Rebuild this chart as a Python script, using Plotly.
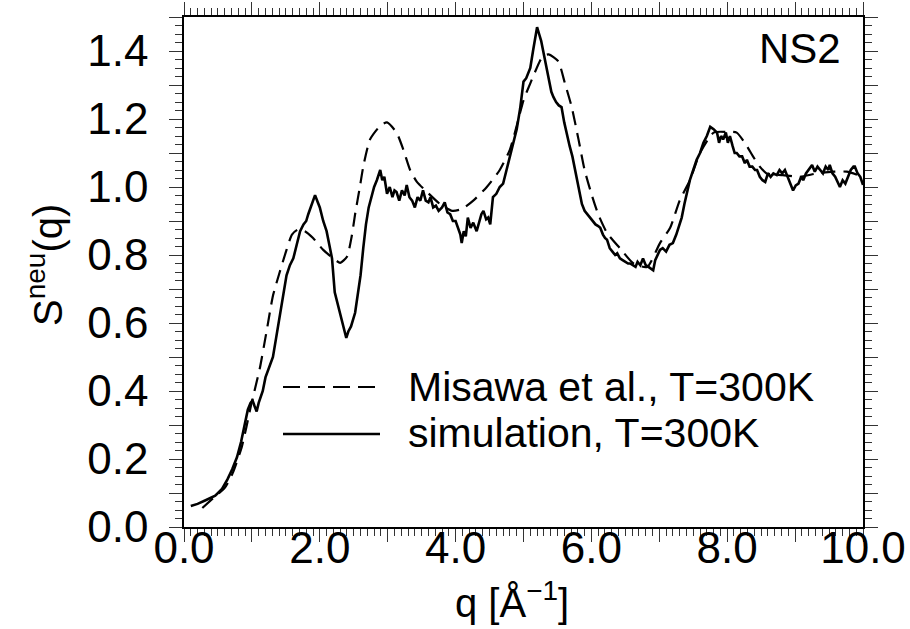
import plotly.graph_objects as go

# Simulation, T=300K (solid)
sim_q = [0.10, 0.20, 0.31, 0.40, 0.46, 0.56, 0.64, 0.71, 0.78, 0.84, 0.90, 0.94, 0.98, 1.01, 1.04,
         1.07, 1.10, 1.16, 1.20, 1.26, 1.31, 1.36, 1.41, 1.46, 1.51, 1.56, 1.61, 1.66, 1.71, 1.76,
         1.80, 1.83, 1.88, 1.93, 1.97, 2.00, 2.05, 2.10, 2.14, 2.18, 2.22, 2.26, 2.30, 2.35, 2.39,
         2.42, 2.46, 2.52, 2.56, 2.60, 2.64, 2.68, 2.72, 2.76, 2.80, 2.84, 2.87, 2.89, 2.92, 2.95,
         2.99, 3.03, 3.07, 3.10, 3.13, 3.17, 3.21, 3.25, 3.28, 3.32, 3.36, 3.40, 3.44, 3.48, 3.52,
         3.56, 3.60, 3.63, 3.67, 3.71, 3.75, 3.80, 3.84, 3.88, 3.92, 3.96, 4.00, 4.04, 4.07, 4.09,
         4.12, 4.15, 4.18, 4.22, 4.26, 4.31, 4.35, 4.38, 4.41, 4.45, 4.48, 4.51, 4.55, 4.60, 4.65,
         4.70, 4.75, 4.80, 4.85, 4.90, 4.95, 4.98, 5.00, 5.04, 5.10, 5.14, 5.17, 5.20, 5.23, 5.26,
         5.29, 5.33, 5.37, 5.41, 5.44, 5.48, 5.52, 5.56, 5.60, 5.64, 5.68, 5.72, 5.76, 5.79, 5.82,
         5.86, 5.90, 5.94, 5.98, 6.02, 6.06, 6.10, 6.13, 6.17, 6.20, 6.23, 6.27, 6.31, 6.35, 6.38,
         6.42, 6.46, 6.50, 6.54, 6.57, 6.61, 6.65, 6.68, 6.72, 6.76, 6.80, 6.84, 6.88, 6.91, 6.94,
         6.97, 7.01, 7.05, 7.10, 7.15, 7.20, 7.25, 7.30, 7.33, 7.37, 7.41, 7.45, 7.50, 7.55, 7.60,
         7.65, 7.70, 7.75, 7.80, 7.85, 7.88, 7.91, 7.94, 7.98, 8.01, 8.04, 8.08, 8.11, 8.14, 8.18,
         8.22, 8.26, 8.29, 8.33, 8.37, 8.41, 8.44, 8.48, 8.52, 8.56, 8.60, 8.64, 8.68, 8.73, 8.77,
         8.81, 8.85, 8.89, 8.93, 8.97, 9.01, 9.05, 9.09, 9.12, 9.16, 9.20, 9.25, 9.29, 9.33, 9.37,
         9.41, 9.45, 9.49, 9.51, 9.55, 9.59, 9.63, 9.66, 9.70, 9.74, 9.78, 9.82, 9.86, 9.88, 9.92,
         9.96, 10.0]
sim_s = [0.062, 0.068, 0.078, 0.085, 0.092, 0.112, 0.14, 0.17, 0.205, 0.25, 0.31, 0.345, 0.365, 0.372, 0.355,
         0.34, 0.365, 0.40, 0.44, 0.47, 0.50, 0.56, 0.62, 0.68, 0.74, 0.77, 0.79, 0.83, 0.87, 0.89,
         0.90, 0.92, 0.95, 0.976, 0.955, 0.94, 0.90, 0.87, 0.83, 0.79, 0.69, 0.66, 0.63, 0.59, 0.556,
         0.575, 0.59, 0.63, 0.68, 0.74, 0.82, 0.89, 0.94, 0.97, 1.00, 1.02, 1.035, 1.05, 1.02, 1.03,
         0.98, 1.00, 0.97, 0.99, 0.985, 0.96, 0.99, 0.975, 1.006, 0.97, 0.96, 0.94, 0.97, 0.96, 0.99,
         0.96, 0.955, 0.97, 0.94, 0.945, 0.93, 0.94, 0.955, 0.925, 0.92, 0.90, 0.90, 0.88, 0.86, 0.835,
         0.87, 0.855, 0.91, 0.88, 0.895, 0.87, 0.90, 0.92, 0.93, 0.905, 0.91, 0.89, 0.97, 0.98, 1.00,
         1.01, 1.05, 1.09, 1.13, 1.17, 1.23, 1.27, 1.31, 1.32, 1.35, 1.40, 1.44, 1.47, 1.45, 1.43,
         1.40, 1.36, 1.33, 1.28, 1.265, 1.25, 1.24, 1.235, 1.19, 1.15, 1.12, 1.09, 1.05, 1.03, 0.99,
         0.95, 0.93, 0.92, 0.91, 0.90, 0.89, 0.885, 0.88, 0.86, 0.85, 0.845, 0.82, 0.81, 0.80, 0.805,
         0.79, 0.785, 0.78, 0.775, 0.775, 0.77, 0.765, 0.78, 0.77, 0.79, 0.77, 0.765, 0.76, 0.755, 0.785,
         0.80, 0.815, 0.82, 0.81, 0.83, 0.835, 0.86, 0.89, 0.91, 0.95, 0.99, 1.02, 1.05, 1.08, 1.10,
         1.13, 1.15, 1.177, 1.17, 1.16, 1.13, 1.15, 1.14, 1.16, 1.13, 1.15, 1.12, 1.10, 1.10, 1.09,
         1.09, 1.07, 1.08, 1.06, 1.06, 1.05, 1.05, 1.03, 1.02, 1.015, 1.04, 1.03, 1.04, 1.035, 1.05,
         1.04, 1.05, 1.03, 1.01, 0.99, 1.005, 1.01, 1.03, 1.02, 1.04, 1.05, 1.065, 1.045, 1.06, 1.05,
         1.04, 1.06, 1.05, 1.065, 1.04, 1.03, 1.01, 1.00, 1.02, 1.01, 1.03, 1.05, 1.06, 1.06, 1.04,
         1.03, 1.006]

# Misawa et al., T=300K (dashed)
exp_q = [0.27, 0.43, 0.60, 0.72, 0.85, 0.92, 1.00, 1.05, 1.12, 1.22, 1.31, 1.41, 1.51, 1.59, 1.68,
         1.78, 1.90, 2.05, 2.20, 2.30, 2.40, 2.47, 2.52, 2.59, 2.64, 2.74, 2.89, 2.99, 3.13, 3.23,
         3.33, 3.43, 3.58, 3.77, 3.95, 4.09, 4.26, 4.46, 4.65, 4.80, 4.90, 5.00, 5.10, 5.24, 5.29,
         5.37, 5.51, 5.61, 5.71, 5.81, 5.90, 6.00, 6.10, 6.23, 6.42, 6.62, 6.82, 7.01, 7.16, 7.30,
         7.45, 7.60, 7.80, 8.00, 8.14, 8.29, 8.38, 8.48, 8.58, 8.82, 9.07, 9.32, 9.56, 9.76, 10.0]
exp_s = [0.056, 0.085, 0.115, 0.16, 0.235, 0.295, 0.37, 0.41, 0.47, 0.58, 0.68, 0.75, 0.815, 0.86, 0.875,
         0.87, 0.85, 0.815, 0.79, 0.777, 0.795, 0.855, 0.92, 1.00, 1.06, 1.14, 1.18, 1.19, 1.16, 1.11,
         1.05, 1.015, 0.985, 0.95, 0.93, 0.935, 0.96, 1.00, 1.05, 1.11, 1.18, 1.255, 1.305, 1.37, 1.385,
         1.39, 1.37, 1.305, 1.235, 1.14, 1.05, 0.98, 0.92, 0.865, 0.82, 0.775, 0.765, 0.835, 0.88, 0.96,
         1.02, 1.10, 1.16, 1.162, 1.16, 1.12, 1.09, 1.06, 1.04, 1.035, 1.03, 1.04, 1.045, 1.045, 1.03]

# tick layout: major ticks every 1.0 (x) / 0.1 (y), labels on every second major tick
x_range = [0, 10]
y_range = [0, 1.5]
x_major, x_minor = 1.0, 0.1
y_major, y_minor = 0.1, 0.025

FONT = "Liberation Sans, Arial, sans-serif"

fig = go.Figure()
fig.add_trace(go.Scatter(x=exp_q, y=exp_s, mode="lines", name="Misawa et al., T=300K",
                         line=dict(color="black", width=2.2, dash="14px,8px", shape="spline", smoothing=0.6)))
fig.add_trace(go.Scatter(x=sim_q, y=sim_s, mode="lines", name="simulation, T=300K",
                         line=dict(color="black", width=2.6)))

axis_common = dict(
    showgrid=False, zeroline=False, showline=True, linecolor="black", linewidth=1.5,
    ticks="outside", ticklen=13, tickwidth=1, tickcolor="#333", mirror="allticks",
    tickfont=dict(family=FONT, size=44, color="black"), tickformat=".1f", ticklabelstep=2,
    tickmode="linear", tick0=0, automargin=False,
)

fig.update_xaxes(range=x_range, dtick=x_major,
                 minor=dict(ticks="outside", dtick=x_minor, tick0=0, ticklen=7, tickwidth=1, tickcolor="#333"),
                 ticklabelstandoff=-32, **axis_common)
fig.update_yaxes(range=y_range, dtick=y_major,
                 minor=dict(ticks="outside", dtick=y_minor, tick0=0, ticklen=7, tickwidth=1, tickcolor="#333"),
                 ticklabelstandoff=12, **axis_common)

def px_x(p):
    return (p - 184) / 679.0

def px_y(p):
    return (527 - p) / 510.0

annots = [
    dict(text="S<sup>neu</sup>(q)", x=px_x(45), y=px_y(265), textangle=-90, font=dict(size=40)),
    dict(text="q [Å<sup>−1</sup>]", x=px_x(512), y=px_y(600), font=dict(size=40)),
    dict(text="NS2", x=px_x(800), y=px_y(48), font=dict(size=42)),
    dict(text="Misawa et al., T=300K", x=px_x(406), y=px_y(387), xanchor="left", font=dict(size=41)),
    dict(text="simulation, T=300K", x=px_x(406), y=px_y(433), xanchor="left", font=dict(size=41)),
]
for a in annots:
    a.setdefault("xanchor", "center")
    a["font"] = dict(family=FONT, color="black", **a["font"])
    fig.add_annotation(xref="paper", yref="paper", yanchor="middle", showarrow=False, **a)

fig.add_shape(type="line", xref="paper", yref="paper", x0=px_x(283), x1=px_x(378),
              y0=px_y(387), y1=px_y(387), line=dict(color="black", width=2.2, dash="17px,8px"))
fig.add_shape(type="line", xref="paper", yref="paper", x0=px_x(283), x1=px_x(380),
              y0=px_y(434), y1=px_y(434), line=dict(color="black", width=2.4))

fig.update_layout(
    width=910, height=629, showlegend=False,
    margin=dict(l=184, r=47, t=17, b=102),
    paper_bgcolor="white", plot_bgcolor="white",
)

fig.write_html("out.html")
